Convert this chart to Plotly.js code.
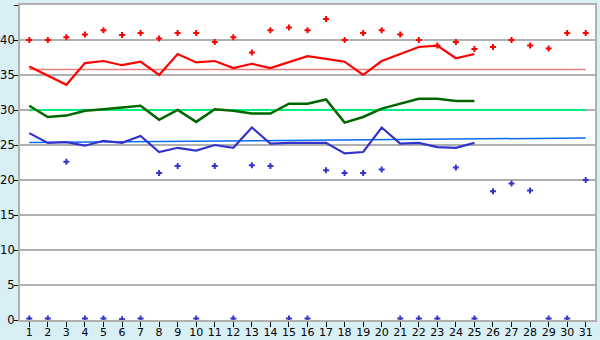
<!DOCTYPE html>
<html>
<head>
<meta charset="utf-8">
<script src="https://cdn.plot.ly/plotly-3.0.1.min.js"></script>
<style>html,body{margin:0;padding:0;background:#d8eff6;}#chart{width:600px;height:340px;}</style>
</head>
<body>
<div id="chart"></div>
<script>
const days = Array.from({length: 31}, (_, i) => i + 1);
const lineDays = days.slice(0, 25);

const maxPoints = [40.0, 40.0, 40.4, 40.8, 41.4, 40.7, 41.0, 40.2, 41.0, 41.0,
                   39.7, 40.4, 38.2, 41.4, 41.8, 41.4, 43.0, 40.0, 41.0, 41.4,
                   40.8, 40.0, 39.2, 39.7, 38.7, 39.0, 40.0, 39.2, 38.8, 41.0, 41.0];
const minPoints = [0.2, 0.2, 22.6, 0.2, 0.2, 0.1, 0.2, 21.0, 22.0, 0.2,
                   22.0, 0.2, 22.1, 22.0, 0.2, 0.2, 21.4, 21.0, 21.0, 21.5,
                   0.2, 0.2, 0.2, 21.8, 0.2, 18.4, 19.5, 18.5, 0.2, 0.2, 20.0];
const highLine = [36.2, 34.9, 33.6, 36.7, 37.0, 36.4, 36.9, 35.0, 38.0, 36.8,
                  37.0, 36.0, 36.6, 36.0, 36.8, 37.7, 37.3, 36.9, 35.0, 37.0,
                  38.0, 39.0, 39.2, 37.4, 38.0];
const midLine = [30.6, 29.0, 29.2, 29.9, 30.1, 30.4, 30.6, 28.6, 30.0, 28.3,
                 30.1, 29.9, 29.5, 29.5, 30.9, 30.9, 31.5, 28.2, 29.0, 30.2,
                 30.9, 31.6, 31.6, 31.3, 31.3];
const lowLine = [26.7, 25.3, 25.4, 24.9, 25.6, 25.3, 26.3, 24.0, 24.6, 24.2,
                 25.0, 24.6, 27.5, 25.2, 25.3, 25.3, 25.3, 23.8, 24.0, 27.5,
                 25.2, 25.3, 24.7, 24.6, 25.3];
const refDays = [1, 31];
const highRef = [35.8, 35.8];
const midRef = [30.0, 30.0];
const lowRef = [25.35, 26.0];
const yTicks = [0, 5, 10, 15, 20, 25, 30, 35, 40, 45];

const traces = [
  {x: refDays, y: highRef, mode: 'lines', line: {color: '#f08080', width: 1.5}, hoverinfo: 'skip'},
  {x: refDays, y: midRef, mode: 'lines', line: {color: '#00f080', width: 2}, hoverinfo: 'skip'},
  {x: refDays, y: lowRef, mode: 'lines', line: {color: '#0a6cf0', width: 1.5}, hoverinfo: 'skip'},
  {x: lineDays, y: highLine, mode: 'lines', line: {color: '#ff0000', width: 2.2}},
  {x: lineDays, y: midLine, mode: 'lines', line: {color: '#006600', width: 2.5}},
  {x: lineDays, y: lowLine, mode: 'lines', line: {color: '#3333cc', width: 2.2}},
  {x: days, y: maxPoints, mode: 'markers', cliponaxis: false,
   marker: {symbol: 'cross', size: 5, color: '#ff0000'}},
  {x: days, y: minPoints, mode: 'markers', cliponaxis: false,
   marker: {symbol: 'cross', size: 5, color: '#3333cc'}}
];

const layout = {
  width: 600, height: 340,
  margin: {l: 20, r: 5, t: 5, b: 20},
  paper_bgcolor: '#d8eff6',
  plot_bgcolor: '#ffffff',
  showlegend: false,
  font: {family: 'DejaVu Sans, Verdana, sans-serif', size: 11, color: '#000000'},
  xaxis: {
    range: [0.5, 31.5], tickvals: days, ticktext: days.map(String),
    showgrid: false, zeroline: false,
    ticks: 'outside', ticklen: 5, tickcolor: '#000000', tickwidth: 1,
    ticklabelstandoff: -4,
    showline: true, linecolor: '#b0b0b0', linewidth: 2, mirror: true,
    tickfont: {size: 11}
  },
  yaxis: {
    range: [0, 45], tickvals: yTicks,
    showgrid: true, gridcolor: '#b0b0b0', gridwidth: 1.5, zeroline: false,
    ticks: 'outside', ticklen: 4, tickcolor: '#000000', tickwidth: 1,
    ticklabelstandoff: -3,
    showline: true, linecolor: '#b0b0b0', linewidth: 2, mirror: true,
    tickfont: {size: 11.5}
  }
};

Plotly.newPlot('chart', traces, layout, {displayModeBar: false, staticPlot: true});
</script>
</body>
</html>
